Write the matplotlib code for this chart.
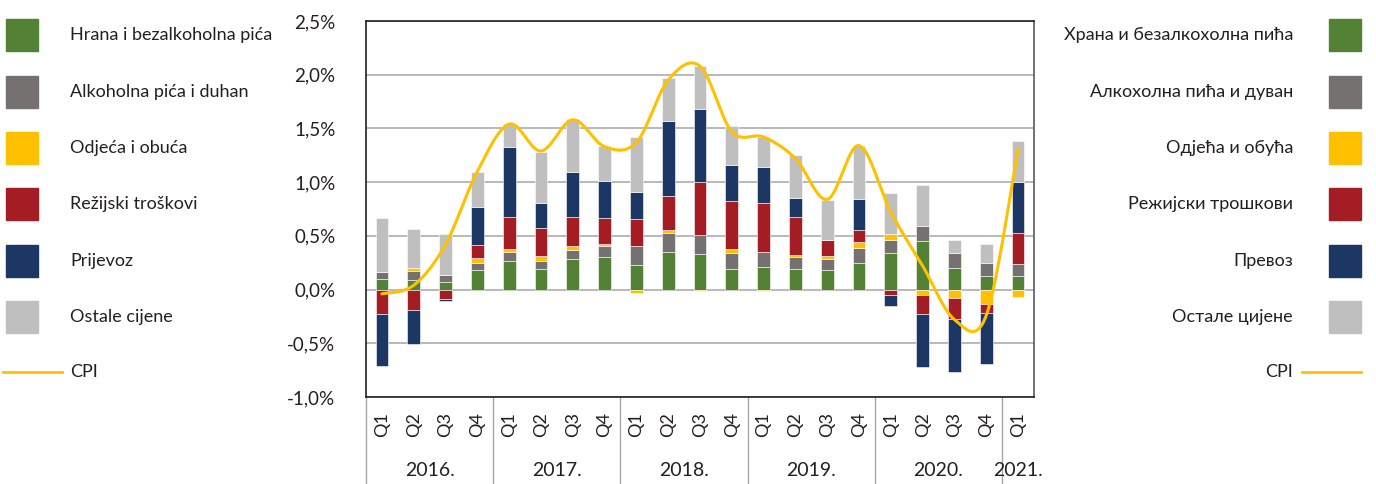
import matplotlib
matplotlib.use("Agg")
import matplotlib.pyplot as plt
from matplotlib.patches import Rectangle
from matplotlib.lines import Line2D
from matplotlib.transforms import blended_transform_factory
import numpy as np

plt.rcParams['font.family'] = ['Lato', 'DejaVu Sans']

# quarters and years
quarters = ['Q1', 'Q2', 'Q3', 'Q4'] * 5 + ['Q1']
years = ['2016.', '2017.', '2018.', '2019.', '2020.', '2021.']

# contributions to CPI change (percentage points)
hrana = [0.10, 0.09, 0.07, 0.18, 0.27, 0.19, 0.28, 0.30, 0.23, 0.35, 0.33,
         0.19, 0.21, 0.19, 0.18, 0.25, 0.34, 0.455, 0.20, 0.13, 0.13]
alkohol = [0.06, 0.08, 0.07, 0.065, 0.08, 0.08, 0.09, 0.105, 0.18, 0.18, 0.18,
           0.15, 0.14, 0.11, 0.105, 0.14, 0.12, 0.14, 0.14, 0.12, 0.11]
odjeca = [0.0, 0.03, 0.0, 0.05, 0.025, 0.04, 0.04, 0.02, -0.03, 0.02, -0.01,
          0.035, -0.01, 0.02, 0.03, 0.05, 0.06, -0.05, -0.08, -0.13, -0.065]
rezijski = [-0.23, -0.19, -0.09, 0.12, 0.30, 0.26, 0.27, 0.24, 0.25, 0.32, 0.49,
            0.45, 0.46, 0.36, 0.15, 0.115, -0.055, -0.18, -0.19, -0.09, 0.29]
prijevoz = [-0.48, -0.32, -0.02, 0.35, 0.65, 0.24, 0.41, 0.35, 0.25, 0.70, 0.68,
            0.33, 0.33, 0.17, 0.0, 0.285, -0.10, -0.49, -0.50, -0.47, 0.47]
ostale = [0.51, 0.36, 0.38, 0.33, 0.22, 0.475, 0.50, 0.32, 0.51, 0.40, 0.40,
          0.37, 0.28, 0.40, 0.37, 0.50, 0.38, 0.38, 0.12, 0.17, 0.38]
cpi = [-0.04, 0.04, 0.42, 1.10, 1.54, 1.29, 1.58, 1.33, 1.37, 1.95, 2.08,
       1.47, 1.42, 1.22, 0.84, 1.34, 0.72, 0.22, -0.28, -0.24, 1.31]

labels_lat = ['Hrana i bezalkoholna pića', 'Alkoholna pića i duhan', 'Odjeća i obuća',
              'Režijski troškovi', 'Prijevoz', 'Ostale cijene']
labels_cyr = ['Храна и безалкохолна пића', 'Алкохолна пића и дуван', 'Одјећа и обућа',
              'Режијски трошкови', 'Превоз', 'Остале цијене']
colors = ['#538135', '#767171', '#FFC000', '#A51D24', '#1C3764', '#BFBFBF']
cpi_color = '#FFC000'

W, H = 1376, 484
fig = plt.figure(figsize=(W / 100, H / 100), dpi=100)
ax = fig.add_axes([366 / W, (H - 397) / H, 668 / W, 376 / H])

series = [hrana, alkohol, odjeca, rezijski, prijevoz, ostale]
x = np.arange(len(quarters))
pos_base = np.zeros(len(x))
neg_base = np.zeros(len(x))
for vals, c in zip(series, colors):
    v = np.array(vals)
    base = np.where(v >= 0, pos_base, neg_base)
    ax.bar(x, v, 0.4, bottom=base, color=c, edgecolor='white', linewidth=0.4, zorder=3)
    pos_base += np.where(v >= 0, v, 0)
    neg_base += np.where(v < 0, v, 0)

# smoothed CPI line (Catmull-Rom bezier like Excel smoothing)
px = x.astype(float)
py = np.array(cpi)
t = np.linspace(0, 1, 30)
sx, sy = [], []
for i in range(len(px) - 1):
    p0 = (px[max(i - 1, 0)], py[max(i - 1, 0)])
    p1 = (px[i], py[i])
    p2 = (px[i + 1], py[i + 1])
    p3 = (px[min(i + 2, len(px) - 1)], py[min(i + 2, len(px) - 1)])
    c1 = (p1[0] + (p2[0] - p0[0]) / 6, p1[1] + (p2[1] - p0[1]) / 6)
    c2 = (p2[0] - (p3[0] - p1[0]) / 6, p2[1] - (p3[1] - p1[1]) / 6)
    for k in range(2):
        pts = [p1[k], c1[k], c2[k], p2[k]]
        b = ((1 - t) ** 3 * pts[0] + 3 * (1 - t) ** 2 * t * pts[1]
             + 3 * (1 - t) * t ** 2 * pts[2] + t ** 3 * pts[3])
        (sx if k == 0 else sy).extend(b)
ax.plot(sx, sy, color=cpi_color, lw=2.2, zorder=4, solid_capstyle='round')

ax.set_xlim(-0.5, len(x) - 0.5)
ax.set_ylim(-1.0, 2.5)
yt = np.arange(-1.0, 2.51, 0.5)
ax.set_yticks(yt)
ax.set_yticklabels([('%.1f%%' % v).replace('.', ',') for v in yt], fontsize=13.5, color='#231F20')
ax.tick_params(axis='y', length=0, pad=22)
ax.grid(axis='y', color='#A6A6A6', lw=1.1, zorder=0)
ax.set_axisbelow(True)
for s in ['top', 'left', 'bottom']:
    ax.spines[s].set_color('#231F20')
    ax.spines[s].set_linewidth(1.2)
ax.spines['right'].set_color('#595959')
ax.spines['right'].set_linewidth(1.2)

ax.set_xticks(x)
ax.set_xticklabels(quarters, rotation=90, fontsize=13, color='#231F20')
ax.tick_params(axis='x', length=0, pad=11)

trans = blended_transform_factory(ax.transData, ax.transAxes)
low = -87 / 376
for b in [-0.5, 3.5, 7.5, 11.5, 15.5, 19.5]:
    ax.plot([b, b], [0, low], transform=trans, color='#A6A6A6', lw=1, clip_on=False)
for i, yr in enumerate(years):
    xc = 4 * i + 1.5 if i < 5 else 20
    ax.text(xc, -74 / 376, yr, transform=trans, ha='center', va='center',
            fontsize=14, color='#231F20')

# legends drawn in figure pixel coordinates
rows = [35, 92, 148, 204, 261, 317]
for yy, lab_l, lab_r, c in zip(rows, labels_lat, labels_cyr, colors):
    fig.patches.append(Rectangle((6 / W, (H - yy - 16) / H), 32 / W, 32 / H,
                                 transform=fig.transFigure, color=c))
    fig.text(70 / W, (H - yy) / H, lab_l, ha='left', va='center', fontsize=13, color='#231F20')
    fig.patches.append(Rectangle((1329 / W, (H - yy - 16) / H), 32 / W, 32 / H,
                                 transform=fig.transFigure, color=c))
    fig.text(1293 / W, (H - yy) / H, lab_r, ha='right', va='center', fontsize=13, color='#231F20')
yc = (H - 372) / H
fig.add_artist(Line2D([3 / W, 62 / W], [yc, yc], color=cpi_color, lw=2, transform=fig.transFigure))
fig.text(70 / W, yc, 'CPI', ha='left', va='center', fontsize=13, color='#231F20')
fig.add_artist(Line2D([1302 / W, 1361 / W], [yc, yc], color=cpi_color, lw=2, transform=fig.transFigure))
fig.text(1293 / W, yc, 'CPI', ha='right', va='center', fontsize=13, color='#231F20')

fig.savefig('out.png', dpi=100)
